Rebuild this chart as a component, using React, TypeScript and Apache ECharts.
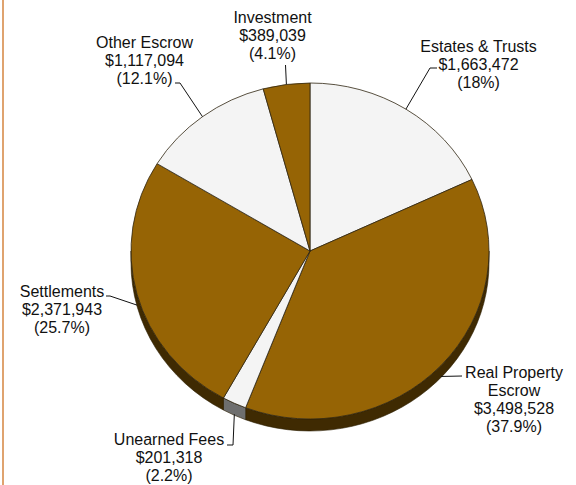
import React, { useEffect, useRef } from "react";
import * as echarts from "echarts";

const categories = ["Estates & Trusts", "Real Property\nEscrow", "Unearned Fees", "Settlements", "Other Escrow", "Investment"];
const values = [1663472, 3498528, 201318, 2371943, 1117094, 389039];
const amountLabels = ["$1,663,472", "$3,498,528", "$201,318", "$2,371,943", "$1,117,094", "$389,039"];
const percentLabels = ["(18%)", "(37.9%)", "(2.2%)", "(25.7%)", "(12.1%)", "(4.1%)"];
const topColors = ["#f4f4f4", "#966405", "#f4f4f4", "#966405", "#f4f4f4", "#966405"];
const sideColors = ["#6e6e6e", "#3f2a02", "#6e6e6e", "#3f2a02", "#6e6e6e", "#3f2a02"];
// label centre x, first-line centre y
const labelAnchors = [[478.5, 46], [514, 372], [169, 439], [62, 291], [144.5, 42], [272.5, 17]];
// leader elbow points after the slice edge
const leaderElbows = [[[430, 68], [437, 68]], [[462, 376]], [[233, 445], [227, 445]], [[110, 296], [106, 296]], [[180, 83], [175, 83]], [[285.5, 65]]];
const leaderDrop = [0, 11, 11, 11, 0, 0];

const CX = 310, CY = 251, RX = 179, RY = 168, DEPTH = 12;
const total = values.reduce((a, b) => a + b, 0);
const pt = (a: number, dy = 0) => [CX + RX * Math.sin(a), CY - RY * Math.cos(a) + dy];

function renderItem(params: any, api: any) {
  const i = params.dataIndex;
  const before = values.slice(0, i).reduce((a, b) => a + b, 0);
  const a0 = (before / total) * Math.PI * 2;
  const a1 = ((before + api.value(0)) / total) * Math.PI * 2;
  const mid = (a0 + a1) / 2;
  const [x0, y0] = pt(a0);
  const [x1, y1] = pt(a1);
  const large = a1 - a0 > Math.PI ? 1 : 0;
  const children: any[] = [];
  const s0 = Math.max(a0, Math.PI / 2);
  const s1 = Math.min(a1, Math.PI * 1.5);
  if (s1 > s0) {
    const [ax, ay] = pt(s0);
    const [bx, by] = pt(s1);
    children.push({
      type: "path",
      shape: { pathData: `M${ax} ${ay}A${RX} ${RY} 0 0 1 ${bx} ${by}L${bx} ${by + DEPTH}A${RX} ${RY} 0 0 0 ${ax} ${ay + DEPTH}Z` },
      style: { fill: sideColors[i], stroke: "#2a1c00", lineWidth: 0.6 },
    });
  }
  children.push({
    type: "path",
    shape: { pathData: `M${CX} ${CY}L${x0} ${y0}A${RX} ${RY} 0 ${large} 1 ${x1} ${y1}Z` },
    style: { fill: topColors[i], stroke: "#2e2410", lineWidth: 0.8 },
  });
  const start = pt(mid, leaderDrop[i]);
  children.push({
    type: "polyline",
    shape: { points: [start, ...leaderElbows[i]] },
    style: { fill: "none", stroke: "#111111", lineWidth: 1 },
  });
  const [lx, ly] = labelAnchors[i];
  const lines = [...categories[i].split("\n"), amountLabels[i], percentLabels[i]];
  lines.forEach((text, k) => {
    children.push({
      type: "text",
      x: lx,
      y: ly + k * 18,
      style: { text, fill: "#111111", fontFamily: "Liberation Sans", fontSize: 16, align: "center", verticalAlign: "middle" },
    });
  });
  return { type: "group", children };
}

export default function App() {
  const ref = useRef<HTMLDivElement>(null);
  useEffect(() => {
    document.body.style.margin = "0";
    const chart = echarts.init(ref.current!, null, { renderer: "svg" });
    chart.setOption({
      animation: false,
      backgroundColor: "#ffffff",
      graphic: [{ type: "rect", shape: { x: 2, y: 0, width: 2, height: 485 }, style: { fill: "#dfa36f" } }],
      series: [{
        type: "custom",
        coordinateSystem: "none",
        renderItem,
        encode: { value: 0 },
        data: values.map((v, i) => ({ name: categories[i], value: [v] })),
      }],
    });
    return () => chart.dispose();
  }, []);
  return <div ref={ref} style={{ width: 576, height: 485 }} />;
}
